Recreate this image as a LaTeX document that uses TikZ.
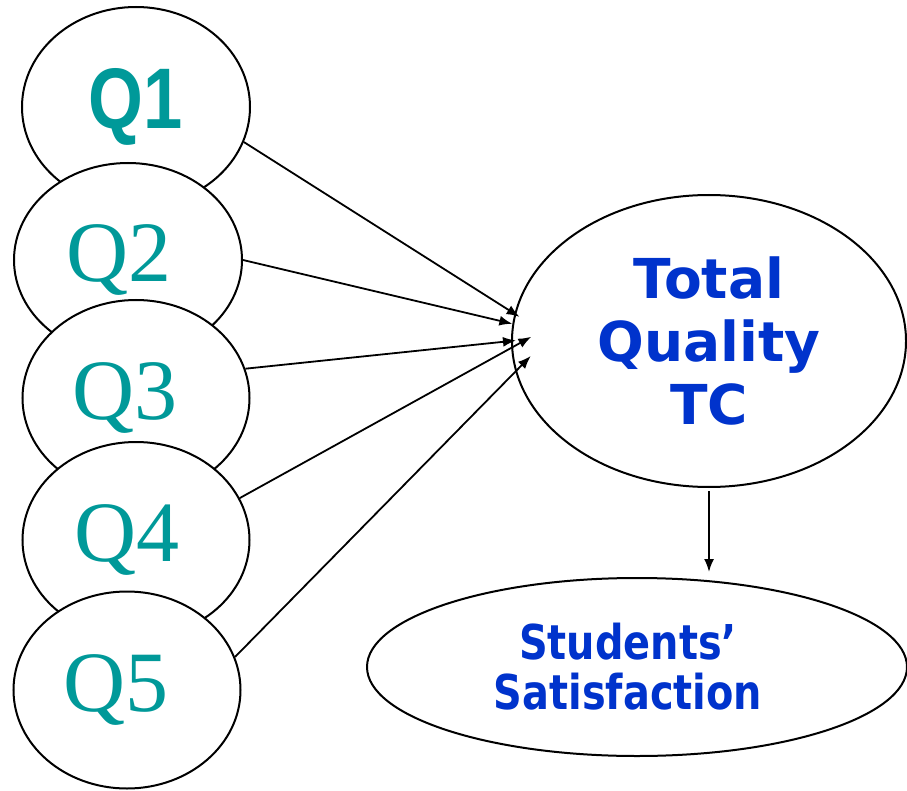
\documentclass[tikz,border=0pt]{standalone}
\usepackage{fontspec}
\setmainfont{Liberation Serif}
\newfontfamily\arialfont[FakeStretch=0.82]{Liberation Sans}
\newfontfamily\verdfont{DejaVu Sans}
\newfontfamily\tahfont[FakeStretch=0.83]{DejaVu Sans}
\usetikzlibrary{shapes.geometric,arrows.meta}
\definecolor{qteal}{RGB}{0,153,153}
\definecolor{tcblue}{RGB}{0,51,204}
\begin{document}
\begin{tikzpicture}[x=1pt,y=-1pt,
    qnode/.style={draw,ellipse,fill=white,line width=2pt,inner sep=0pt,
      minimum width=227pt,minimum height=196pt,text=qteal,
      font=\fontsize{86}{86}\selectfont},
    bignode/.style={draw,ellipse,fill=white,line width=2pt,inner sep=0pt,
      text=tcblue,align=center},
    arr/.style={-{Latex[length=13pt,width=10pt]},line width=1.8pt}]
  \useasboundingbox (0,0) rectangle (907,791);
  \node[qnode,minimum width=228pt,minimum height=200pt] (q1) at (136,107) {\arialfont\bfseries Q1};
  \node[qnode,minimum width=228pt,minimum height=194pt] (q2) at (128,260) {Q2\kern18pt};
  \node[qnode] (q3) at (136,398) {Q3\kern22pt};
  \node[qnode] (q4) at (136,540) {Q4\kern18pt};
  \node[qnode,minimum height=197pt] (q5) at (127,690) {Q5\kern22pt};
  \node[bignode,minimum width=394pt,minimum height=292pt,
    font=\verdfont\bfseries\fontsize{55}{63}\selectfont] (tc) at (709,341) {Total\\Quality\\TC};
  \node[bignode,minimum width=540pt,minimum height=178pt,
    font=\tahfont\bfseries\fontsize{48}{50}\selectfont] (ss) at (637,667) {Students’\kern18pt\\Satisfaction\kern18pt};
  \draw[arr,shorten >=-6pt] (q1.-18) -- (tc.172.4);
  \draw[arr] (q2.east) -- (tc.175.4);
  \draw[arr,shorten >=-5pt] (q3.15) -- (tc.180);
  \draw[arr,shorten >=-23pt] (q4.22) -- (tc.182.6);
  \draw[arr,shorten >=-22pt] (q5.17) -- (tc.189.8);
  \draw[arr,shorten <=3pt,shorten >=5pt] (tc.south) -- (tc.south |- ss.north);
\end{tikzpicture}
\end{document}
